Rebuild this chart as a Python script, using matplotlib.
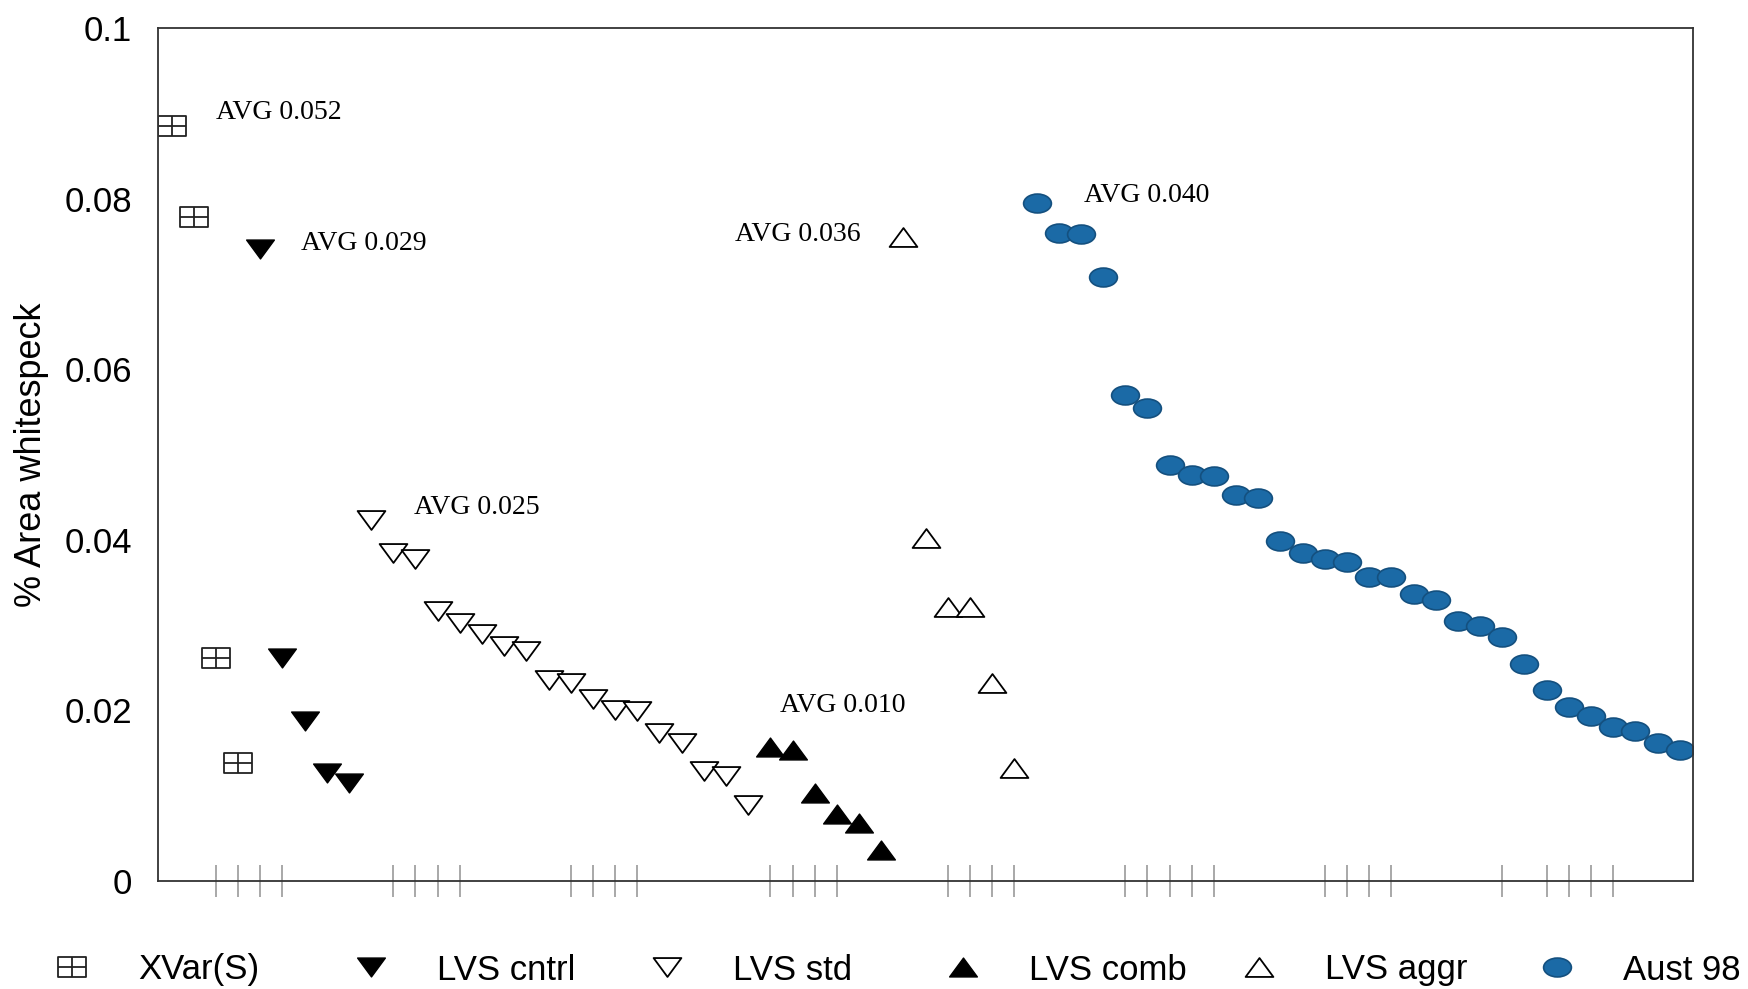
import numpy as np
import matplotlib
matplotlib.use("Agg")
import matplotlib.pyplot as plt
from matplotlib.path import Path

# ---------------- data ----------------
series_names = ["XVar(S)", "LVS cntrl", "LVS std", "LVS comb", "LVS aggr", "Aust 98"]

xvar_vals = [0.0885, 0.0778, 0.0261, 0.0138]
cntrl_vals = [0.0741, 0.0262, 0.0188, 0.0127, 0.0115]
std_vals = [0.0423, 0.0385, 0.0377, 0.0316, 0.0303, 0.0290, 0.0275, 0.0270, 0.0236,
            0.0232, 0.0213, 0.0200, 0.0199, 0.0173, 0.0162, 0.0129, 0.0123, 0.0089]
comb_vals = [0.0157, 0.0154, 0.0103, 0.0079, 0.0068, 0.0036]
aggr_vals = [0.0755, 0.0402, 0.0321, 0.0321, 0.0232, 0.0132]
aust_vals = [0.0795, 0.0760, 0.0758, 0.0708, 0.0570, 0.0554, 0.0488, 0.0476, 0.0475,
             0.0453, 0.0449, 0.0399, 0.0385, 0.0377, 0.0374, 0.0356, 0.0356, 0.0336,
             0.0329, 0.0305, 0.0299, 0.0286, 0.0254, 0.0224, 0.0204, 0.0193, 0.0180,
             0.0176, 0.0162, 0.0154]

avg_labels = ["AVG 0.052", "AVG 0.029", "AVG 0.025", "AVG 0.010", "AVG 0.036", "AVG 0.040"]

y_ticks = [0, 0.02, 0.04, 0.06, 0.08, 0.1]
y_tick_labels = ["0", "0.02", "0.04", "0.06", "0.08", "0.1"]
y_label = "% Area whitespeck"

# visible x tick marks (category positions)
x_tick_pos = [3, 4, 5, 6, 11, 12, 13, 14, 19, 20, 21, 22, 28, 29, 30, 31,
              36, 37, 38, 39, 44, 45, 46, 47, 48, 53, 54, 55, 56, 61, 63, 64, 65, 66]

# ---------------- layout / style ----------------
W, H = 1749, 989
fig = plt.figure(figsize=(W / 100, H / 100), dpi=100)
ax = fig.add_axes([158 / W, 1 - 881 / H, (1693 - 158) / W, (881 - 28) / H])

sans = "Liberation Sans"
serif = "Liberation Serif"

# custom marker shapes
M, L, C = Path.MOVETO, Path.LINETO, Path.CLOSEPOLY
box_plus = Path([(-1, -0.72), (1, -0.72), (1, 0.72), (-1, 0.72), (0, 0),
                 (0, -0.72), (0, 0.72), (-1, 0), (1, 0)],
                [M, L, L, L, C, M, L, M, L])
tri_down = Path([(-1, 0.68), (1, 0.68), (0, -0.68), (0, 0)], [M, L, L, C])
tri_up = Path([(-1, -0.68), (1, -0.68), (0, 0.68), (0, 0)], [M, L, L, C])
uc = Path.unit_circle()
ellipse = Path(uc.vertices * np.array([1.0, 0.68]), uc.codes)

all_vals = [xvar_vals, cntrl_vals, std_vals, comb_vals, aggr_vals, aust_vals]
styles = [
    dict(marker=box_plus, markersize=20, markerfacecolor="none", markeredgecolor="#222222", markeredgewidth=1.3),
    dict(marker=tri_down, markersize=20, markerfacecolor="black", markeredgecolor="black", markeredgewidth=1.0),
    dict(marker=tri_down, markersize=20, markerfacecolor="white", markeredgecolor="black", markeredgewidth=1.3),
    dict(marker=tri_up, markersize=20, markerfacecolor="black", markeredgecolor="black", markeredgewidth=1.0),
    dict(marker=tri_up, markersize=20, markerfacecolor="white", markeredgecolor="black", markeredgewidth=1.3),
    dict(marker=ellipse, markersize=20, markerfacecolor="#1b6aa6", markeredgecolor="#14507f", markeredgewidth=1.2),
]

handles = []
start = 1
for vals, st in zip(all_vals, styles):
    xs = np.arange(start, start + len(vals))
    h, = ax.plot(xs, vals, linestyle="none", **st)
    handles.append(h)
    start += len(vals)

ax.set_xlim(0.39, 69.6)
ax.set_ylim(0, 0.1)

# AVG annotations (position: left edge index, centre value)
avg_pos = [(3.01, 0.0901), (6.84, 0.0747), (11.94, 0.0438),
           (28.45, 0.0206), (26.42, 0.0758), (42.16, 0.0804)]
for txt, (px, py) in zip(avg_labels, avg_pos):
    ax.text(px, py, txt, ha="left", va="center", fontsize=20, family=serif, color="black")

# axes styling
for s in ax.spines.values():
    s.set_color("#333333")
    s.set_linewidth(1.3)

ax.set_yticks(y_ticks)
ax.set_yticklabels(y_tick_labels, fontsize=25, family=sans)
ax.tick_params(axis="y", length=0, pad=18.7)

ax.set_xticks(x_tick_pos)
ax.set_xticklabels([])
ax.tick_params(axis="x", direction="inout", length=23, width=1.2, color="#9a9a9a")

ax.set_ylabel(y_label, fontsize=26, family=sans, va="center")
ax.yaxis.set_label_coords(-0.0827, 0.5)

# legend: one entry per slot along the bottom
marker_centres = [72, 371, 667, 963, 1259, 1557]
fs = 25
fs_px = fs * 100 / 72
for h, name, mc in zip(handles, series_names, marker_centres):
    x0 = (mc - 0.5 * fs_px) / W
    fig.legend(handles=[h], labels=[name], loc="center left",
               bbox_to_anchor=(x0, 1 - 970 / H), frameon=False,
               borderpad=0, borderaxespad=0, handlelength=1.0,
               handletextpad=1.40, numpoints=1,
               prop=dict(family=sans, size=fs))

fig.savefig("out.png", dpi=100)
